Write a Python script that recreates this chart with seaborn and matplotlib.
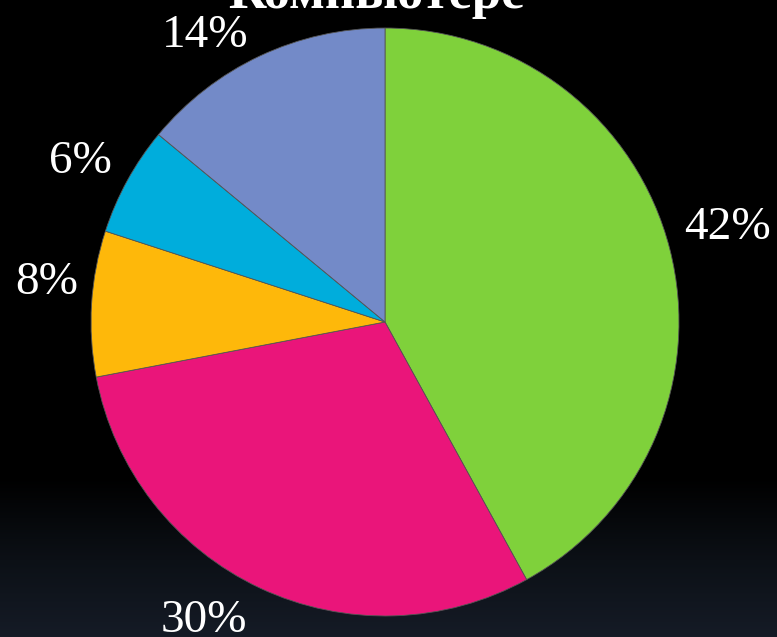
import numpy as np
import seaborn as sns
import matplotlib.pyplot as plt
from matplotlib.colors import LinearSegmentedColormap

# === Data ===
title = "Компьютере"
shares = [42, 30, 8, 6, 14]
colors = ["#7FD13B", "#EA157A", "#FEB80A", "#00ADDC", "#738AC8"]

# label placement (radius in pie units, angle tweak in degrees)
label_dist = [1.21, 1.19, 1.16, 1.17, 1.15]
label_shift = [1, -6, -3, 1, 7]

sns.set_theme(style="dark")
plt.rcParams['font.family'] = ['Liberation Serif', 'DejaVu Serif']

fig = plt.figure(figsize=(7.77, 6.37), dpi=100)
fig.patch.set_facecolor("black")

# background gradient (black top, dark navy at bottom)
bg = fig.add_axes([0, 0, 1, 1], zorder=0)
grad = np.linspace(0, 1, 256).reshape(-1, 1)
cmap = LinearSegmentedColormap.from_list(
    "bg", [(0, "#151b26"), (0.12, "#0c1016"), (0.25, "#000000"), (1, "#000000")])
bg.imshow(grad, aspect="auto", cmap=cmap, origin="lower", extent=[0, 1, 0, 1])
bg.set_axis_off()

ax = fig.add_axes([0.1171, 0.033, 0.7568, 0.923], zorder=1)
ax.set_facecolor("none")
wedges, texts, autotexts = ax.pie(
    shares, colors=colors, startangle=90, counterclock=False,
    autopct="%d%%", pctdistance=1.17, radius=1.0,
    wedgeprops=dict(edgecolor="#555555", linewidth=0.6),
    textprops=dict(color="white", fontsize=34))

for w, t, d, s in zip(wedges, autotexts, label_dist, label_shift):
    ang = np.deg2rad((w.theta1 + w.theta2) / 2 + s)
    t.set_position((d * np.cos(ang), d * np.sin(ang)))

ax.set_xlim(-1, 1)
ax.set_ylim(-1, 1)
ax.set_aspect("equal")
ax.set_axis_off()

fig.text(0.485, 0.988, title, ha="center", va="baseline", color="white",
         fontsize=38, fontweight="bold")

fig.savefig("out.png", dpi=100, facecolor=fig.get_facecolor())
plt.close(fig)
